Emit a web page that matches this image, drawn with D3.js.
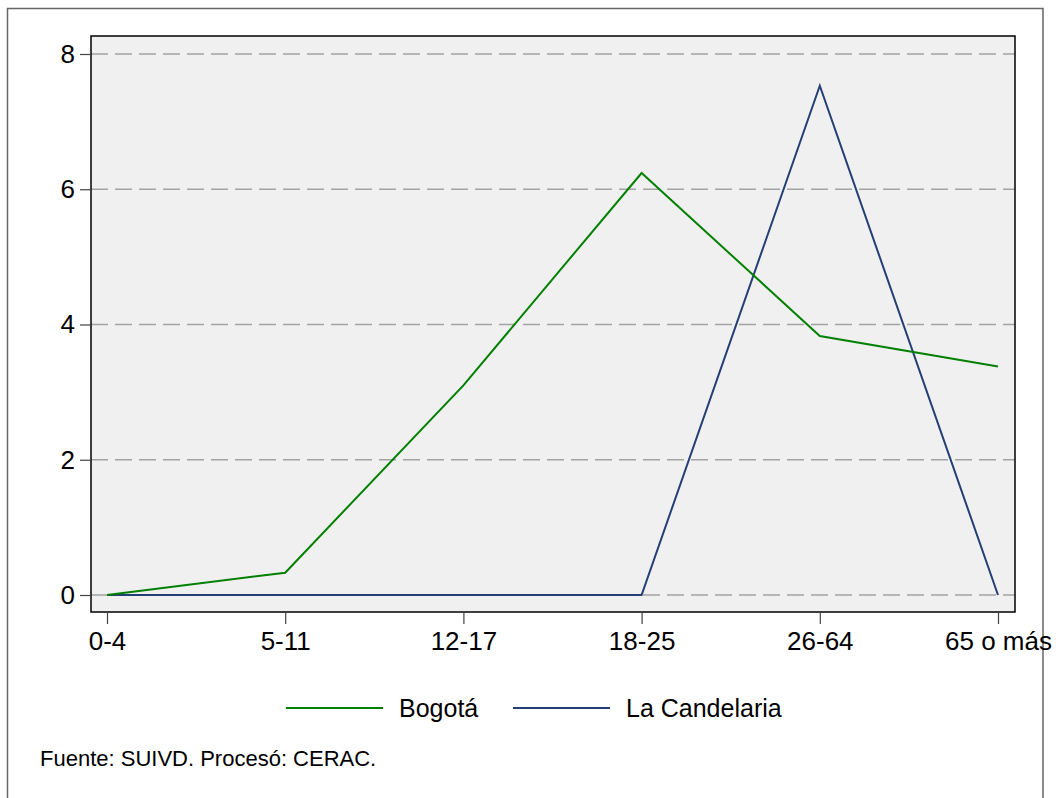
<!DOCTYPE html>
<meta charset="utf-8">
<script src="https://d3js.org/d3.v7.min.js"></script>
<style>
  body { margin: 0; background: #fff; }
  text { font-family: "Liberation Sans", Arial, sans-serif; fill: #000; }
</style>
<div id="my_dataviz"></div>
<script>

// data
var ageGroups = ["0-4", "5-11", "12-17", "18-25", "26-64", "65 o más"];
var bogota = [0, 0.33, 3.1, 6.24, 3.83, 3.38];
var candelaria = [0, 0, 0, 0, 7.53, 0];
var yTicks = [0, 2, 4, 6, 8];
var seriesNames = ["Bogotá", "La Candelaria"];
var seriesColors = ["#008000", "#243f75"];

var width = 1059, height = 798;
var plot = {left: 91, top: 36, right: 1015, bottom: 612};

var svg = d3.select("#my_dataviz")
  .append("svg")
    .attr("width", width)
    .attr("height", height);

// outer frame (bottom edge falls outside the picture)
svg.append("path")
  .attr("d", "M7.5,805 V8.5 H1043 V805")
  .attr("fill", "none")
  .attr("stroke", "#666")
  .attr("stroke-width", 1.5);

var x = d3.scalePoint()
  .domain(ageGroups)
  .range([107, 998]);

var y = d3.scaleLinear()
  .domain([0, 8])
  .range([595, 54]);

// plot region
svg.append("rect")
  .attr("x", plot.left)
  .attr("y", plot.top)
  .attr("width", plot.right - plot.left)
  .attr("height", plot.bottom - plot.top)
  .attr("fill", "#f0f0f0");

// dashed grid
svg.append("g")
  .selectAll("line")
  .data(yTicks)
  .enter()
  .append("line")
    .attr("x1", plot.left)
    .attr("x2", plot.right)
    .attr("y1", function(d) { return y(d); })
    .attr("y2", function(d) { return y(d); })
    .attr("stroke", "#a3a3a3")
    .attr("stroke-width", 1.5)
    .attr("stroke-dasharray", "17,7");

svg.append("rect")
  .attr("x", plot.left)
  .attr("y", plot.top)
  .attr("width", plot.right - plot.left)
  .attr("height", plot.bottom - plot.top)
  .attr("fill", "none")
  .attr("stroke", "#000")
  .attr("stroke-width", 1.5);

// Y axis
var yAxis = svg.append("g")
  .attr("transform", "translate(" + plot.left + ",0)")
  .call(d3.axisLeft(y).tickValues(yTicks).tickSize(11).tickPadding(5).tickFormat(d3.format("d")));
yAxis.select(".domain").remove();
yAxis.selectAll(".tick line").attr("stroke", "#444").attr("stroke-width", 1.2);
yAxis.selectAll(".tick text")
  .attr("font-size", "26px")
  .attr("font-family", "Liberation Sans, Arial, sans-serif")
  .attr("fill", "#000");

// X axis
var xAxis = svg.append("g")
  .attr("transform", "translate(0," + plot.bottom + ")")
  .call(d3.axisBottom(x).tickSize(12).tickPadding(8));
xAxis.select(".domain").remove();
xAxis.selectAll(".tick line").attr("stroke", "#444").attr("stroke-width", 1.2);
xAxis.selectAll(".tick text")
  .attr("font-size", "26px")
  .attr("font-family", "Liberation Sans, Arial, sans-serif")
  .attr("fill", "#000");

// lines
var line = d3.line()
  .x(function(d, i) { return x(ageGroups[i]); })
  .y(function(d) { return y(d); });

svg.append("path")
  .datum(candelaria)
  .attr("d", line)
  .attr("fill", "none")
  .attr("stroke", seriesColors[1])
  .attr("stroke-width", 2);

svg.append("path")
  .datum(bogota)
  .attr("d", line)
  .attr("fill", "none")
  .attr("stroke", seriesColors[0])
  .attr("stroke-width", 2);

// legend
var legendX = [286, 513];
seriesNames.forEach(function(name, i) {
  svg.append("line")
    .attr("x1", legendX[i]).attr("x2", legendX[i] + 97)
    .attr("y1", 708).attr("y2", 708)
    .attr("stroke", seriesColors[i])
    .attr("stroke-width", 2);
  svg.append("text")
    .attr("x", legendX[i] + 113)
    .attr("y", 717)
    .attr("font-size", "25px")
    .text(name);
});

// note
svg.append("text")
  .attr("x", 40)
  .attr("y", 766)
  .attr("font-size", "22px")
  .text("Fuente: SUIVD. Procesó: CERAC.");

</script>
